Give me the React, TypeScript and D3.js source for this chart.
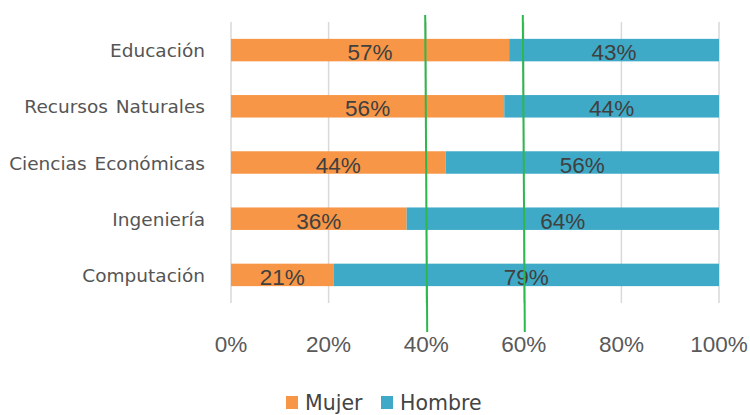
import React from "react";
import * as d3 from "d3";

const categories = ["Educación", "Recursos Naturales", "Ciencias Económicas", "Ingeniería", "Computación"];
const mujer = [57, 56, 44, 36, 21];
const hombre = [43, 44, 56, 64, 79];
const xTicks = [0, 20, 40, 60, 80, 100];
const markers = [40, 60];
const seriesNames = ["Mujer", "Hombre"];
const colors = ["#F79646", "#3FAAC7"];

export default function App() {
  const W = 750, H = 415;
  const x = d3.scaleLinear().domain([0, 100]).range([231, 719]);
  const y = d3.scaleBand().domain(categories).range([22, 303]).paddingInner(0.6).paddingOuter(0.3);
  const fmt = (v: number) => `${v}%`;
  return (
    <svg width={W} height={H} style={{ position: "absolute", left: 0, top: 0, background: "#fff" }}>
      {xTicks.map((t) => (
        <line key={t} x1={x(t)} x2={x(t)} y1={22} y2={303} stroke="#d9d9d9" strokeWidth={1.5} />
      ))}
      {categories.map((c, i) => {
        const y0 = y(c)!;
        const bh = y.bandwidth();
        const xm = x(mujer[i]);
        return (
          <g key={c}>
            <rect x={x(0)} y={y0} width={xm - x(0)} height={bh} fill={colors[0]} />
            <rect x={xm} y={y0} width={x(100) - xm} height={bh} fill={colors[1]} />
            <text x={(x(0) + xm) / 2} y={y0 + bh / 2 + 10} textAnchor="middle" fontFamily="Liberation Sans, Arial" fontSize={22.5} fill="#404040">{fmt(mujer[i])}</text>
            <text x={(xm + x(100)) / 2} y={y0 + bh / 2 + 10} textAnchor="middle" fontFamily="Liberation Sans, Arial" fontSize={22.5} fill="#404040">{fmt(hombre[i])}</text>
            <text x={205} y={y0 + bh / 2 + 7} textAnchor="end" fontFamily="DejaVu Sans, Verdana" fontSize={18.5} wordSpacing={2} fill="#555">{c}</text>
          </g>
        );
      })}
      {markers.map((m) => (
        <line key={m} x1={x(m) - 1} x2={x(m) + 1} y1={15} y2={332} stroke="#2DB84D" strokeWidth={2} />
      ))}
      {xTicks.map((t) => (
        <text key={t} x={x(t)} y={352} textAnchor="middle" fontFamily="Liberation Sans, Arial" fontSize={22.5} fill="#595959">{fmt(t)}</text>
      ))}
      {seriesNames.map((s, i) => {
        const lx = i === 0 ? 286 : 381;
        return (
          <g key={s}>
            <rect x={lx} y={396} width={12} height={13} fill={colors[i]} />
            <text x={lx + 19} y={410} fontFamily="DejaVu Sans, Verdana" fontSize={20.5} fill="#444">{s}</text>
          </g>
        );
      })}
    </svg>
  );
}
